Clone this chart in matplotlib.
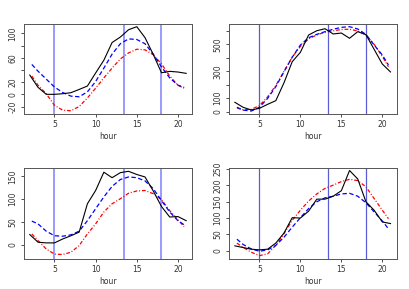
import matplotlib
matplotlib.use("Agg")
import matplotlib.pyplot as plt

# hourly observations
hours = list(range(2, 22))
obs1 = [31.6, 11.5, 0, 0, 1, 2.7, 8, 13.6, 35, 56, 85, 94, 106, 111, 93, 65.5, 35.4, 37.7, 36.6, 34.4]
obs2 = [70, 33, 13, 25, 55, 82, 215, 371, 441, 569, 601, 616, 577, 584, 545, 594, 572, 463, 354, 295]
obs3 = [22.7, 5.9, 4.4, 4.4, 13, 20, 28, 90, 119, 159, 147, 158, 161, 154, 148.6, 118, 84, 61, 62, 53]
obs4 = [14.6, 9.3, 4.3, 2.2, 4.3, 23, 54, 101, 100, 121, 158, 158, 167, 184, 246, 220, 150, 124, 88, 83]

# fitted curves
fit_x = [2.25, 3, 4, 5, 6, 7, 8, 9, 10, 11, 12, 13, 14, 15, 16, 17, 18, 19, 20, 20.75]
blue1 = [49, 38, 25, 12, 3, -3, -4, 4, 21, 43, 66, 83, 91, 90, 83, 66, 45, 27, 15, 11.5]
red1 = [30, 15, 1, -18, -26, -27, -20, -6, 10, 27, 43, 58, 68, 74, 73, 65, 50, 30, 15, 10]
blue2 = [33, 12, 5, 33, 99, 186, 297, 404, 495, 549, 574, 594, 612, 626, 631, 614, 574, 495, 421, 347]
red2 = [28, 14, 18, 45, 110, 195, 300, 405, 485, 540, 570, 590, 600, 610, 612, 600, 570, 500, 410, 334]
blue3 = [52, 46, 30, 20, 19, 22, 30, 53, 79, 105, 128, 143, 148.6, 147, 140, 123, 97, 72, 53, 44]
red3 = [24, 9.5, -9, -20, -21, -16, -1.5, 24, 46, 72, 90, 101, 113, 118, 119, 112, 99, 75, 55, 40]
blue4 = [35, 19, 5, -2, 2, 16, 41, 72, 101, 129, 150, 162, 167, 174, 176, 167, 147, 119, 91, 67]
red4 = [23, 10, -5, -15.5, -10, 16, 52, 93, 124, 152, 174, 191, 201, 212, 219, 215, 196, 160, 124, 98]

vlines = [5, 13.4, 18]

panels = [
    dict(obs=obs1, blue=blue1, red=red1, pos=[0.0575, 0.6055, 0.413, 0.311], ylim=(-32.3, 115.2),
         yt=[-20, 0, 20, 40, 60, 80, 100], yl=['-20', '0', '20', '', '60', '', '100'], vc='#9a9aff', vw=1.4),
    dict(obs=obs2, blue=blue2, red=red2, pos=[0.559, 0.6055, 0.411, 0.311], ylim=(-17, 650),
         yt=[0, 100, 200, 300, 400, 500, 600], yl=['0', '100', '', '300', '', '500', ''], vc='#5c5cd8', vw=0.9),
    dict(obs=obs3, blue=blue3, red=red3, pos=[0.0575, 0.104, 0.413, 0.315], ylim=(-30.7, 168.4),
         yt=[0, 50, 100, 150], yl=['0', '50', '100', '150'], vc='#9a9aff', vw=1.4),
    dict(obs=obs4, blue=blue4, red=red4, pos=[0.559, 0.104, 0.411, 0.315], ylim=(-25.7, 254),
         yt=[0, 50, 100, 150, 200, 250], yl=['0', '50', '100', '150', '200', '250'], vc='#5c5cd8', vw=0.9),
]

fig = plt.figure(figsize=(4.09, 2.89), dpi=100)
for p in panels:
    ax = fig.add_axes(p['pos'])
    for v in vlines:
        ax.axvline(v, color=p['vc'], lw=p['vw'], zorder=1)
    ax.plot(fit_x, p['red'], color='red', lw=0.9, linestyle=(0, (3, 1.5, 0.8, 1.5)), zorder=2)
    ax.plot(fit_x, p['blue'], color='blue', lw=0.9, linestyle=(0, (3.5, 2)), zorder=3)
    ax.plot(hours, p['obs'], color='black', lw=0.8, zorder=4)
    ax.set_xlim(1.24, 21.76)
    ax.set_ylim(*p['ylim'])
    ax.set_xticks([5, 10, 15, 20])
    ax.set_yticks(p['yt'])
    ax.set_yticklabels(p['yl'], rotation=90, va='center')
    ax.tick_params(direction='out', length=2.5, width=0.6, pad=2, labelsize=5.5,
                   colors='#333333')
    for s in ax.spines.values():
        s.set_linewidth(0.7)
        s.set_color('#555555')
    ax.set_xlabel('hour', fontsize=5.5, color='#333333', labelpad=2)

fig.savefig('out.png', dpi=100)
